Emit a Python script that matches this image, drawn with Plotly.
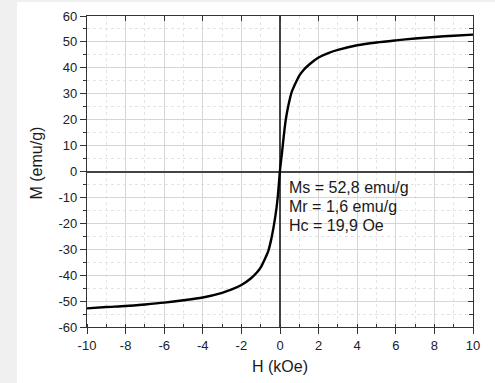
import plotly.graph_objects as go

# Data
H_kOe = [-10, -9, -8, -7, -6, -5, -4, -3, -2.5, -2, -1.5, -1.2, -1, -0.8, -0.6, -0.45,
         -0.3, -0.18, -0.1, 0, 0.1, 0.2, 0.3, 0.45, 0.6, 0.8, 1, 1.2, 1.5, 2, 2.5, 3,
         4, 5, 6, 7, 8, 9, 10]
M_emu = [-52.8, -52.3, -51.9, -51.3, -50.6, -49.7, -48.6, -46.8, -45.5, -43.8, -41.2, -39.0,
         -37.0, -34.0, -30.5, -26.0, -20.0, -14.0, -8.5, 0.5, 7.0, 14.0, 20.0, 26.0, 30.5,
         34.0, 37.0, 39.0, 41.2, 44.0, 45.7, 46.9, 48.7, 49.8, 50.6, 51.3, 51.9, 52.4, 52.8]

x_ticks = [-10, -8, -6, -4, -2, 0, 2, 4, 6, 8, 10]
x_ticklabels = ["-10", "-8", "-6", "-4", "-2", "0", "2", "4", "6", "8", "10"]
y_ticks = [-60, -50, -40, -30, -20, -10, 0, 10, 20, 30, 40, 50, 60]
y_ticklabels = ["-60", "-50", "-40", "-30", "-20", "-10", "0", "10", "20", "30", "40", "50", "60"]
info_lines = ["Ms = 52,8 emu/g", "Mr = 1,6 emu/g", "Hc = 19,9 Oe"]
x_title = "H (kOe)"
y_title = "M (emu/g)"

FONT = "Liberation Sans, Arial, sans-serif"
AX = "#333333"

fig = go.Figure()
fig.add_trace(go.Scatter(x=H_kOe, y=M_emu, mode="lines",
                         line=dict(color="black", width=2.4, shape="spline", smoothing=0.8),
                         showlegend=False, hoverinfo="skip"))
# invisible trace to attach the mirror axes
fig.add_trace(go.Scatter(x=[x_ticks[0]], y=[y_ticks[0]], xaxis="x2", yaxis="y2",
                         mode="markers", marker=dict(opacity=0), showlegend=False,
                         hoverinfo="skip"))

common = dict(showline=True, linecolor=AX, linewidth=1.2, tickcolor=AX, automargin=False,
              tickfont=dict(family=FONT, size=13, color="#222"),
              gridcolor="#d6d6d6", gridwidth=1,
              zeroline=True, zerolinecolor="#444444", zerolinewidth=1.5)

fig.update_layout(
    width=495, height=383,
    margin=dict(l=87, r=22, t=16, b=56, autoexpand=False),
    paper_bgcolor="#f0f0f0", plot_bgcolor="white",
    xaxis=dict(range=[-10, 10], tickvals=x_ticks, ticktext=x_ticklabels,
               ticks="outside", ticklen=6,
               minor=dict(dtick=1, tick0=0, ticks="inside", ticklen=3, tickcolor=AX,
                          showgrid=True, gridcolor="#e4e4e4", griddash="dot", gridwidth=1),
               **common),
    yaxis=dict(range=[-60, 60], tickvals=y_ticks, ticktext=y_ticklabels,
               ticks="outside", ticklen=6,
               minor=dict(dtick=5, tick0=0, ticks="outside", ticklen=3, tickcolor=AX,
                          showgrid=True, gridcolor="#e4e4e4", griddash="dot", gridwidth=1),
               **common),
    xaxis2=dict(range=[-10, 10], overlaying="x", side="top", anchor="y2", automargin=False,
                tickvals=x_ticks, ticks="inside", ticklen=5, tickcolor=AX,
                showticklabels=False, showgrid=False, zeroline=False,
                showline=True, linecolor=AX, linewidth=1.2),
    yaxis2=dict(range=[-60, 60], overlaying="y", side="right", anchor="x2", automargin=False,
                tickvals=y_ticks, ticks="inside", ticklen=5, tickcolor=AX,
                minor=dict(dtick=5, tick0=0, ticks="inside", ticklen=4, tickcolor=AX),
                showticklabels=False, showgrid=False, zeroline=False,
                showline=True, linecolor=AX, linewidth=1.2),
    shapes=[dict(type="rect", xref="paper", yref="paper", layer="below",
                 x0=(17 - 87) / 386, x1=1.2, y0=-0.3, y1=(327 - 2) / 311,
                 fillcolor="white", line=dict(width=0))],
)

annotations = []
for i, t in enumerate(info_lines):
    annotations.append(dict(x=0.38, y=-6.1 - i * 7.35, xref="x", yref="y", text=t,
                            showarrow=False, xanchor="left", yanchor="middle",
                            font=dict(family=FONT, size=16, color="#1a1a1a")))
annotations.append(dict(x=0.5, y=(327 - 366) / 311, xref="paper", yref="paper",
                        text=x_title, showarrow=False, xanchor="center", yanchor="middle",
                        font=dict(family=FONT, size=16, color="#1a1a1a")))
annotations.append(dict(x=(36 - 87) / 386, y=(327 - 163.5) / 311, xref="paper", yref="paper",
                        text=y_title, showarrow=False, xanchor="center", yanchor="middle",
                        textangle=-90, font=dict(family=FONT, size=16, color="#1a1a1a")))
fig.update_layout(annotations=annotations)

fig.write_html("out.html", config={"displayModeBar": False},
               post_script="document.body.style.margin='0';document.body.style.overflow='hidden';")
